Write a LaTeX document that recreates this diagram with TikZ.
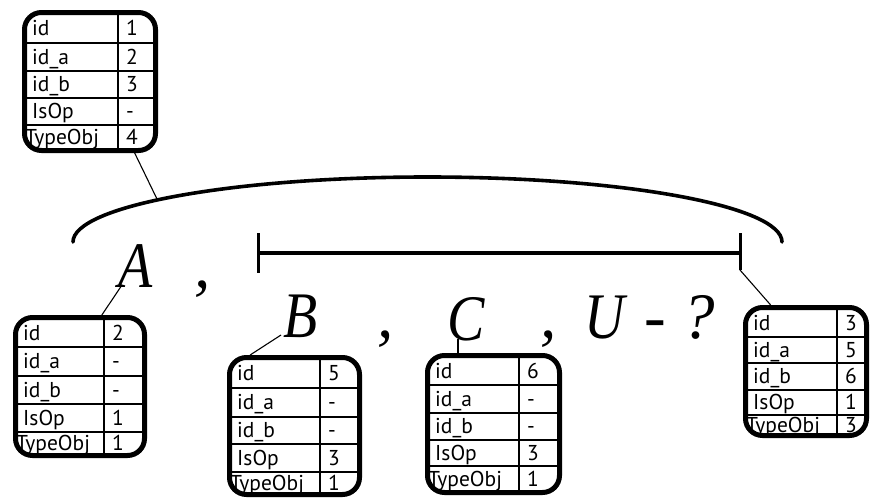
\documentclass[tikz,border=0pt]{standalone}
\usepackage{fontspec}
\setmainfont{Liberation Serif}
\newfontfamily\tabfont{PT Sans}
\tikzset{
  tabbox/.style={draw, line width=5pt, rounded corners=17pt, inner sep=0pt},
  tabline/.style={line width=1.8pt},
  lbl/.style={anchor=base west, inner sep=0pt, font=\tabfont\fontsize{21.5}{21.5}\selectfont},
  big/.style={anchor=base, inner sep=0pt, font=\itshape\fontsize{65}{65}\selectfont},
  conn/.style={line width=1.1pt},
  thick line/.style={line width=3.6pt},
}
\newcommand{\narrow}[1]{\scalebox{0.86}[1]{#1}}
% #1 name, #2 L, #3 T, #4 R, #5 B, #6 column x, #7 list of row-bottom/value
\newcommand{\dtab}[7]{%
  \node[tabbox, minimum width={(#4-#2-5)*1pt}, minimum height={(#5-#3-5)*1pt}]
    (#1) at ({(#2+#4)/2},{(#3+#5)/2}) {};
  \draw[tabline] (#6,#3+3) -- (#6,#5-3);
  \foreach \d/\v [count=\i, remember=\d as \p (initially #3+4)] in {#7} {
    \pgfmathsetmacro\yc{(\p+\d)/2+7}
    \ifnum\i<5 \draw[tabline] (#2+2,\d) -- (#4-2,\d);\fi
    \ifnum\i=5
      \node[lbl] (#1-l\i) at (#2+3,\yc) {TypeObj};
    \else
      \node[lbl] (#1-l\i) at (#2+10,\yc) {\ifcase\i\or id\or id\_a\or id\_b\or IsOp\fi};
    \fi
    \node[lbl] (#1-v\i) at (#6+8,\yc) {\v};
  }%
}
\begin{document}
\begin{tikzpicture}[x=1pt,y=-1pt]
\useasboundingbox (0,0) rectangle (870,498);

% tables
\dtab{T1}{22}{10}{158}{153}{118}{43/1,71/2,98/3,125/-,150/4}
\dtab{T2}{13}{315}{147}{458}{104}{347/2,376/-,404/-,432/1,455/1}
\dtab{T3}{227}{355}{362}{497}{320}{388/5,417/-,444/-,472/3,494/1}
\dtab{T4}{425}{353}{562}{495}{519}{385/6,413/-,440/-,466/3,492/1}
\dtab{T5}{743}{305}{869}{438}{837}{337/3,363/5,390/6,415/1,435/3}

% big letters
\node[big] (A) at (136,287) {\narrow{A}};
\node[big] (c1) at (203,287) {,};
\node[big] (B) at (301,337) {\narrow{B}};
\node[big] (c2) at (386,337) {,};
\node[big] (C) at (466,340) {\narrow{C}};
\node[big] (c3) at (549,337) {,};
\node[big] (U) at (605,338) {\narrow{U}};
\node[big] (dash) at (655,338) {-};
\node[big] (q) at (699,338) {?};

% arc
\coordinate (arcL) at (73,242);
\coordinate (arcP) at (157,199);
\draw[thick line, line cap=round] (arcL) arc[start angle=180, end angle=0, x radius=354.5pt, y radius=65pt];

% bar with ticks
\coordinate (barL) at (258,253);
\coordinate (barR) at (740,253);
\coordinate (tickLt) at (258,233);
\coordinate (tickLb) at (258,273);
\coordinate (tickRt) at (740,233);
\coordinate (tickRb) at (740,270);
\draw[thick line] (barL) -- (barR);
\draw[line width=3pt] (tickLt) -- (tickLb);
\draw[line width=3pt] (tickRt) -- (tickRb);

% connectors
\coordinate (aFoot) at (122,285);
\coordinate (bFoot) at (281,335);
\coordinate (cFoot) at (458,339);
\draw[conn] (T1.-58) -- (arcP);
\draw[conn] (T2.73) -- (aFoot);
\draw[conn] (T3.122) -- (bFoot);
\draw[conn] (cFoot) -- (cFoot |- T4.north);
\draw[conn] (tickRb) -- (T5.118);
\end{tikzpicture}
\end{document}
